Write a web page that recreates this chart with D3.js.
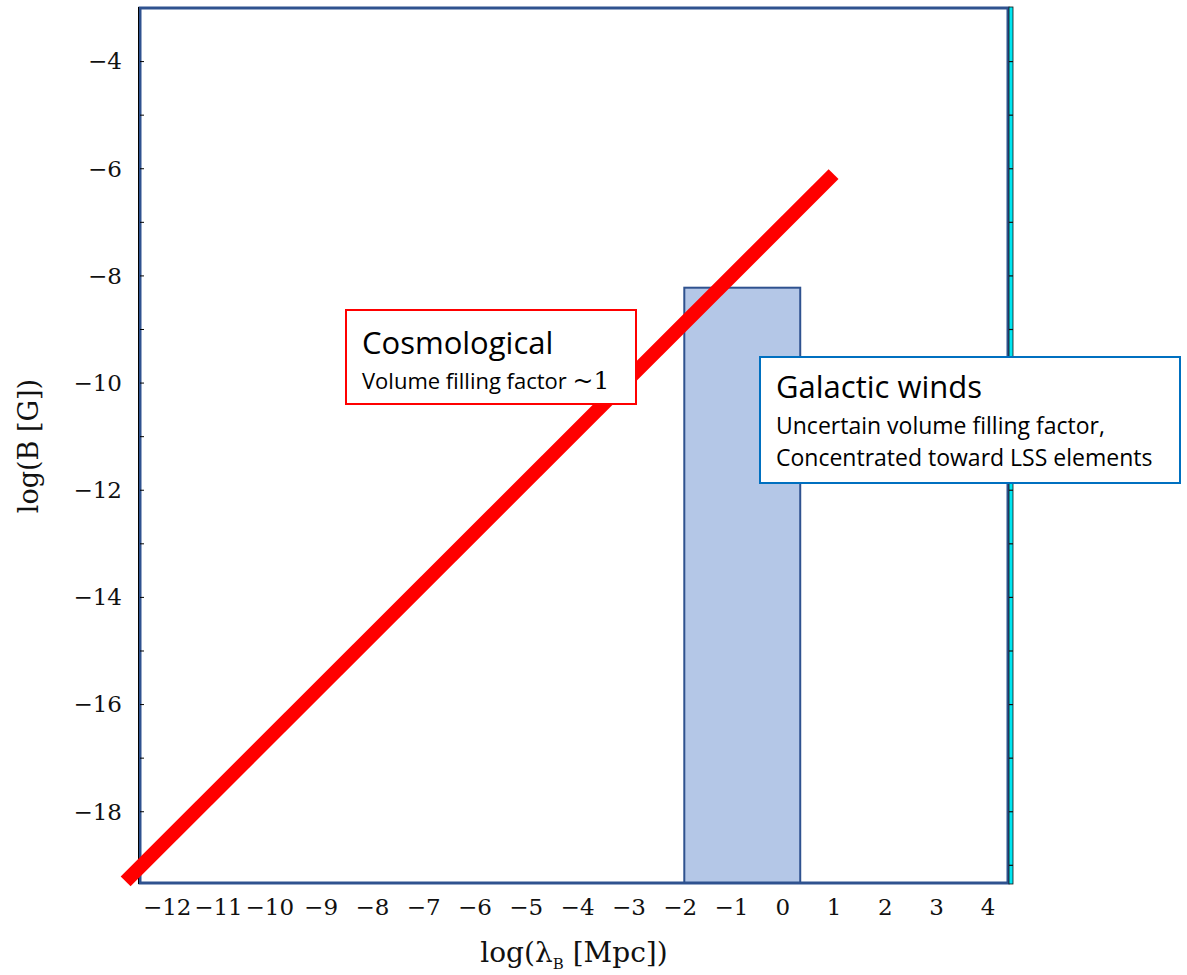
<!DOCTYPE html>
<html>
<head>
<meta charset="utf-8">
<script src="https://cdn.jsdelivr.net/npm/d3@7"></script>
<style>
  body { margin: 0; background: #fff; }
  svg { display: block; }
</style>
</head>
<body>
<div id="chart"></div>
<script>
// data
const xTicks = [-12, -11, -10, -9, -8, -7, -6, -5, -4, -3, -2, -1, 0, 1, 2, 3, 4];
const yTicks = [-4, -6, -8, -10, -12, -14, -16, -18];
const yMinorTicks = d3.range(-19, -3, 1);
const cosmoLine = [[-12.8, -19.3], [1.0, -6.1]];   // log lambda, log B
const windsBox = { x0: -1.91, x1: 0.35, top: -8.22 };
const cosmoLabel = ["Cosmological", "Volume filling factor "];
const windsLabel = ["Galactic winds", "Uncertain volume filling factor,", "Concentrated toward LSS elements"];

const width = 1187, height = 975;
const mLeft = 140, mRight = 1008, mTop = 8, mBottom = 883;

const svg = d3.select("#chart").append("svg")
  .attr("width", width)
  .attr("height", height);

const x = d3.scaleLinear().domain([-12.52, 4.4]).range([mLeft, mRight]);
const y = d3.scaleLinear().domain([-19.33, -3.0]).range([mBottom, mTop]);

const serif = "'DejaVu Serif', 'Liberation Serif', serif";
const sans = "'Open Sans', 'Noto Sans', sans-serif";

// galactic winds region
svg.append("rect")
  .attr("x", x(windsBox.x0))
  .attr("y", y(windsBox.top))
  .attr("width", x(windsBox.x1) - x(windsBox.x0))
  .attr("height", y(-19.33) - y(windsBox.top))
  .attr("fill", "#b4c7e7")
  .attr("stroke", "#2f528f")
  .attr("stroke-width", 2);

// frame
svg.append("rect")
  .attr("x", mLeft).attr("y", mTop)
  .attr("width", mRight - mLeft).attr("height", mBottom - mTop)
  .attr("fill", "none")
  .attr("stroke", "#2f528f")
  .attr("stroke-width", 3);
svg.append("line")
  .attr("x1", mLeft - 1.5).attr("x2", mLeft - 1.5)
  .attr("y1", mTop - 1).attr("y2", mBottom + 1)
  .attr("stroke", "#000").attr("stroke-width", 1);

// cyan strip on the right
svg.append("rect")
  .attr("x", mRight + 1).attr("y", mTop - 1)
  .attr("width", 4).attr("height", mBottom - mTop + 2)
  .attr("fill", "#00e5f0")
  .attr("stroke", "#111")
  .attr("stroke-width", 0.8);

// minor ticks on left and right
svg.append("g").selectAll("line")
  .data(yMinorTicks)
  .join("line")
  .attr("x1", mLeft).attr("x2", mLeft + 4)
  .attr("y1", d => y(d)).attr("y2", d => y(d))
  .attr("stroke", "#000").attr("stroke-width", 1);
svg.append("g").selectAll("line")
  .data(yMinorTicks)
  .join("line")
  .attr("x1", mRight + 1).attr("x2", mRight + 5)
  .attr("y1", d => y(d)).attr("y2", d => y(d))
  .attr("stroke", "#111").attr("stroke-width", 1.2);

// axes (labels only)
const xAxis = svg.append("g")
  .attr("transform", `translate(0,${mBottom})`)
  .call(d3.axisBottom(x).tickValues(xTicks).tickSize(0).tickPadding(16)
    .tickFormat(d => d < 0 ? "\u2212" + Math.abs(d) : d));
xAxis.select(".domain").remove();
xAxis.selectAll("text")
  .attr("font-family", serif)
  .attr("font-size", 23)
  .attr("fill", "#111");

const yAxis = svg.append("g")
  .attr("transform", `translate(${mLeft},0)`)
  .call(d3.axisLeft(y).tickValues(yTicks).tickSize(0).tickPadding(18)
    .tickFormat(d => "\u2212" + Math.abs(d)));
yAxis.select(".domain").remove();
yAxis.selectAll("text")
  .attr("font-family", serif)
  .attr("font-size", 23)
  .attr("fill", "#111");

// axis titles
const xTitle = svg.append("text")
  .attr("x", (mLeft + mRight) / 2)
  .attr("y", 962)
  .attr("text-anchor", "middle")
  .attr("font-family", serif)
  .attr("font-size", 28)
  .attr("fill", "#111");
xTitle.append("tspan").text("log(\u03bb");
xTitle.append("tspan").attr("font-size", 15).attr("dy", 7).text("B");
xTitle.append("tspan").attr("dy", -7).text(" [Mpc])");

svg.append("text")
  .attr("transform", `translate(38,446) rotate(-90)`)
  .attr("text-anchor", "middle")
  .attr("font-family", serif)
  .attr("font-size", 27)
  .attr("fill", "#111")
  .text("log(B [G])");

// cosmological line
svg.append("line")
  .attr("x1", x(cosmoLine[0][0])).attr("y1", y(cosmoLine[0][1]))
  .attr("x2", x(cosmoLine[1][0])).attr("y2", y(cosmoLine[1][1]))
  .attr("stroke", "#ff0000")
  .attr("stroke-width", 14);

// cosmological label box
const cg = svg.append("g");
cg.append("rect")
  .attr("x", 346).attr("y", 310).attr("width", 290).attr("height", 94)
  .attr("fill", "#fff").attr("stroke", "#ff0000").attr("stroke-width", 2);
cg.append("text")
  .attr("x", 362).attr("y", 354)
  .attr("font-family", sans).attr("font-size", 31).attr("fill", "#000")
  .text(cosmoLabel[0]);
const c2 = cg.append("text")
  .attr("x", 362).attr("y", 389)
  .attr("font-family", sans).attr("font-size", 22).attr("fill", "#000");
c2.append("tspan").text(cosmoLabel[1]);
c2.append("tspan").attr("font-family", serif).attr("font-size", 25).text("~1");

// galactic winds label box
const wg = svg.append("g");
wg.append("rect")
  .attr("x", 760).attr("y", 357).attr("width", 420).attr("height", 126)
  .attr("fill", "#fff").attr("stroke", "#0070c0").attr("stroke-width", 2);
wg.selectAll("text")
  .data(windsLabel)
  .join("text")
  .attr("x", 776)
  .attr("y", (d, i) => [398, 434, 466][i])
  .attr("font-family", sans)
  .attr("font-size", (d, i) => i === 0 ? 31 : 23)
  .attr("fill", "#000")
  .text(d => d);
</script>
</body>
</html>
